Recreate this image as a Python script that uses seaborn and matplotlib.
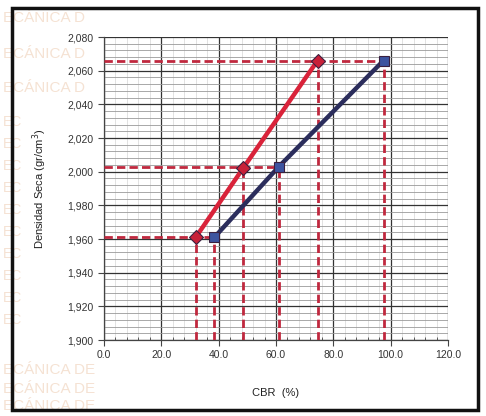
import matplotlib
matplotlib.use("Agg")
import matplotlib.pyplot as plt
from matplotlib.patches import Rectangle
from matplotlib.ticker import MultipleLocator, FuncFormatter
import numpy as np
import pandas as pd
import seaborn as sns

# CBR test results: dry density vs CBR for two penetration readings
cbr_red = [32.0, 48.5, 74.5]
dens_red = [1.961, 2.002, 2.066]
cbr_blue = [38.5, 61.0, 97.5]
dens_blue = [1.961, 2.003, 2.066]

x_ticks = [0, 20, 40, 60, 80, 100, 120]
y_ticks = [1.900, 1.920, 1.940, 1.960, 1.980, 2.000, 2.020, 2.040, 2.060, 2.080]

df = pd.DataFrame({
    "CBR": cbr_red + cbr_blue,
    "Densidad": dens_red + dens_blue,
    "serie": ["0.1"] * len(cbr_red) + ["0.2"] * len(cbr_blue),
})

sns.set_style("white")
plt.rcParams["font.family"] = ["Liberation Sans", "DejaVu Sans"]

fig = plt.figure(figsize=(4.86, 4.16), dpi=100)

# faint background lettering on the sheet
wm_col = "#f5e2d3"
wm_x = 3 / 486
for y in [18, 54, 88]:
    fig.text(wm_x, 1 - y / 416, "ECÁNICA D", fontsize=11, color=wm_col,
             ha="left", va="center", zorder=0)
for y in [122, 144, 166, 188, 210, 232, 254, 276, 298, 320]:
    fig.text(wm_x, 1 - y / 416, "EC", fontsize=10, color=wm_col,
             ha="left", va="center", zorder=0)
for y in [370, 389, 406]:
    fig.text(wm_x, 1 - y / 416, "ECÁNICA DE", fontsize=11, color=wm_col,
             ha="left", va="center", zorder=0)

# sheet frame
fig.patches.append(Rectangle((12 / 486, 1 - 410 / 416), (478 - 12) / 486, (410 - 8) / 416,
                             transform=fig.transFigure, fill=False, edgecolor="#111111",
                             linewidth=2.5, zorder=1))

ax = fig.add_axes([104 / 486, 1 - 340 / 416, (448 - 104) / 486, (340 - 37) / 416])
ax.set_facecolor("white")
ax.set_zorder(2)

ax.set_xlim(0, 120)
ax.set_ylim(1.900, 2.080)
ax.set_xticks(x_ticks)
ax.set_yticks(y_ticks)
ax.xaxis.set_minor_locator(MultipleLocator(4))
ax.yaxis.set_minor_locator(MultipleLocator(0.004))
ax.xaxis.set_major_formatter(FuncFormatter(lambda v, p: f"{v:.1f}"))
ax.yaxis.set_major_formatter(FuncFormatter(lambda v, p: f"{v:.3f}".replace(".", ",")))

ax.grid(which="major", color="#333333", linewidth=0.9)
ax.grid(which="minor", axis="y", color="#9a9a9a", linewidth=0.6)
ax.grid(which="minor", axis="x", color="#d6d6d6", linewidth=0.5)
ax.set_axisbelow(True)

for s in ["top", "right"]:
    ax.spines[s].set_visible(False)
for s in ["left", "bottom"]:
    ax.spines[s].set_color("#444444")
    ax.spines[s].set_linewidth(0.9)

ax.tick_params(axis="both", which="major", length=4, color="#444444", labelsize=7.5,
               labelcolor="#333333", direction="out", left=True, bottom=True)
ax.tick_params(axis="x", which="minor", length=2.5, color="#444444", bottom=True,
               direction="in")

# projection lines from each point to both axes
dash_col = "#c0283e"
for xs, ys in [(cbr_red, dens_red), (cbr_blue, dens_blue)]:
    ax.vlines(xs, 1.900, ys, colors=dash_col, linestyles=(0, (3, 1.5)), linewidth=2, zorder=3)
ax.hlines(dens_blue, 0, cbr_blue, colors=dash_col, linestyles=(0, (3, 1.5)), linewidth=2,
          zorder=3)

sns.lineplot(data=df, x="CBR", y="Densidad", hue="serie", style="serie",
             palette={"0.1": "#d9233a", "0.2": "#2b2d5c"},
             markers={"0.1": "D", "0.2": "s"}, dashes=False, markersize=7,
             linewidth=3.2, legend=False, ax=ax, zorder=4, sort=False)

# marker colours
for line, face in zip(ax.lines[-2:], ["#c82038", "#3d54a0"]):
    line.set_markerfacecolor(face)
    line.set_markeredgecolor("#3a2040")
    line.set_markeredgewidth(0.8)

ax.set_xlabel("CBR  (%)", fontsize=8, color="#222222", labelpad=20)
ax.set_ylabel("Densidad Seca (gr/cm$^3$)", fontsize=8, color="#222222", labelpad=13)

fig.savefig("out.png", dpi=100, facecolor="white")
